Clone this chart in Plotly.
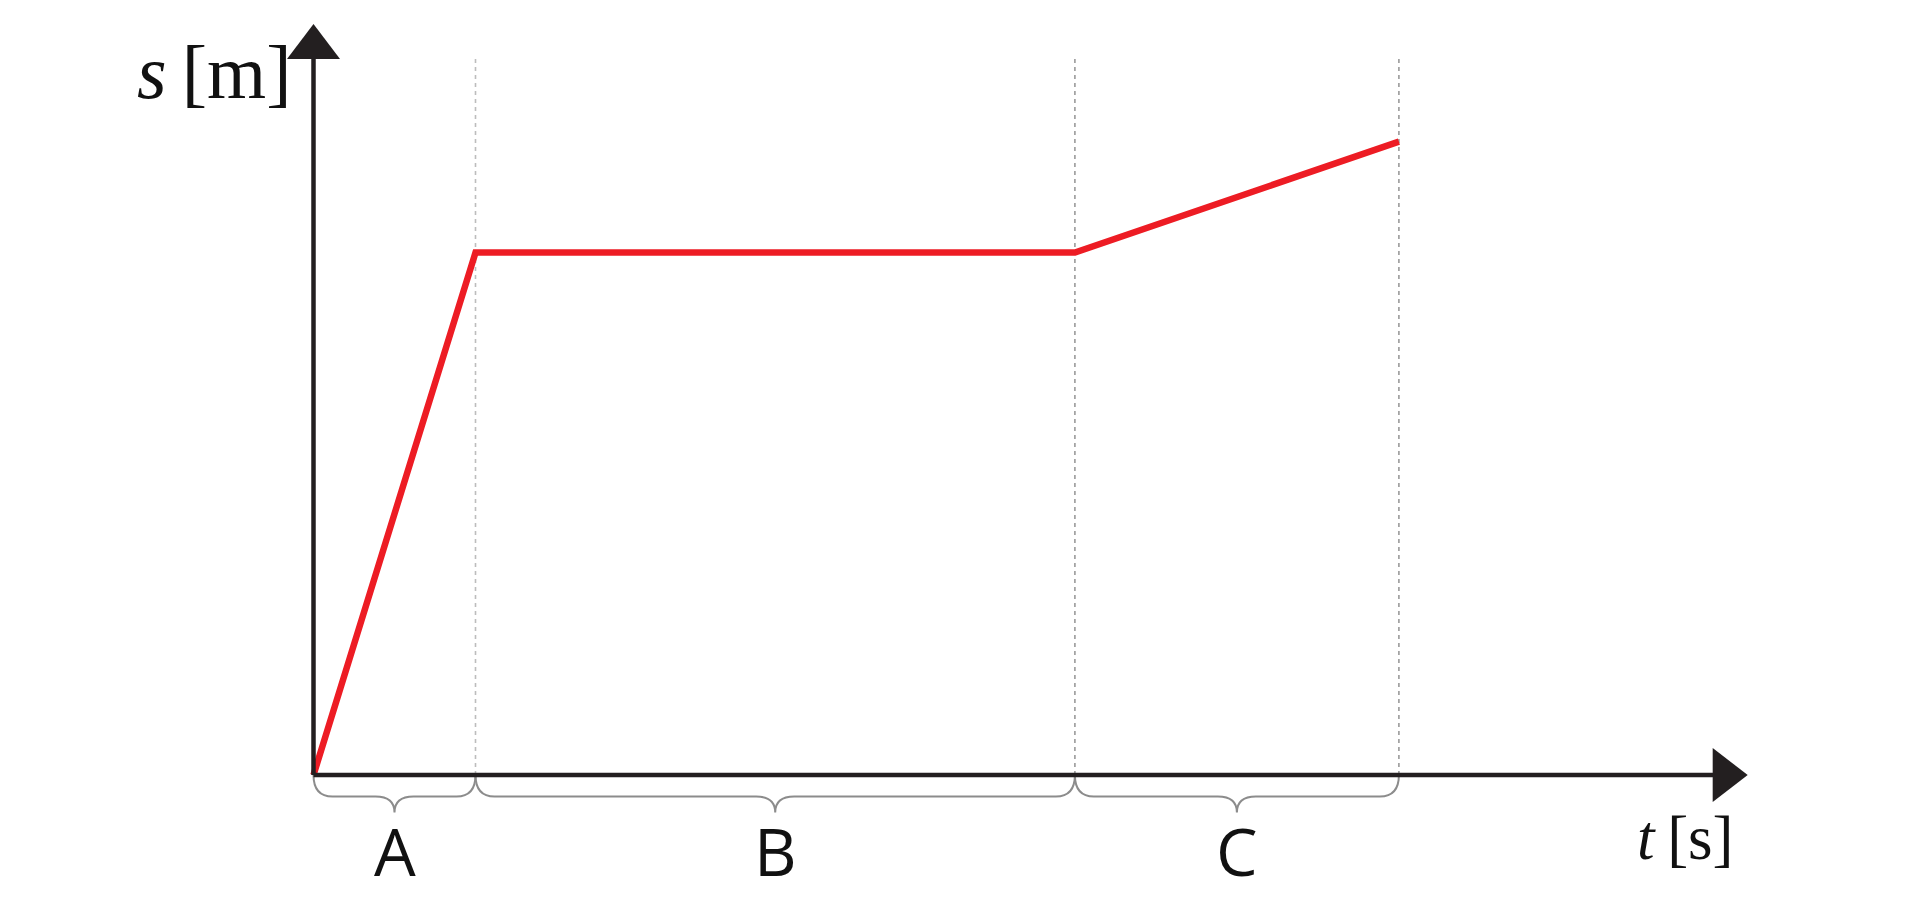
import plotly.graph_objects as go

# ---- data ----
t_values = [0, 2, 9.4, 13.4]          # time [s]
s_values = [0, 8, 8, 9.7]             # distance [m]
phase_labels = ["A", "B", "C"]
x_label = "<i>t</i>\u2009[s]"
y_label = "<i>s</i>\u2009[m]"

# ---- geometry / style ----
PAGE_MARGIN = 8                       # default body margin of the html page
W, H = 1920 - 2 * PAGE_MARGIN, 912 - 2 * PAGE_MARGIN
X0_PX, Y0_PX = 313.5 - PAGE_MARGIN, 775.0 - PAGE_MARGIN   # pixel of origin
PX_PER_T, PX_PER_S = 81.0, 65.3
x_range = [-X0_PX / PX_PER_T, (W - X0_PX) / PX_PER_T]
y_range = [(Y0_PX - H) / PX_PER_S, Y0_PX / PX_PER_S]

def dx(px):  # pixel length -> data units (x)
    return px / PX_PER_T

def dy(px):  # pixel length -> data units (y)
    return px / PX_PER_S

AXIS_COLOR = "#231f20"
RED = "#ed1c24"
BRACE_COLOR = "#8c8c8c"

x_tip = dx(1747.7 - 313.5)
y_tip = dy(775 - 24)
guide_top = dy(775 - 58)

fig = go.Figure()
fig.add_trace(go.Scatter(x=t_values, y=s_values, mode="lines",
                         line=dict(color=RED, width=6.5), hoverinfo="skip",
                         showlegend=False))

shapes = []
# guide lines
for i, tv in enumerate(t_values[1:]):
    shapes.append(dict(type="line", xref="x", yref="y", x0=tv, x1=tv,
                       y0=0, y1=guide_top, layer="below",
                       line=dict(color="#bdbdbd" if i == 0 else "#9a9a9a",
                                 width=1.6, dash="4px,4px")))
# axes
shapes.append(dict(type="line", xref="x", yref="y", x0=0, x1=x_tip - dx(20),
                   y0=0, y1=0, line=dict(color=AXIS_COLOR, width=4.5)))
shapes.append(dict(type="line", xref="x", yref="y", x0=0, x1=0,
                   y0=0, y1=y_tip - dy(20), line=dict(color=AXIS_COLOR, width=4.5)))
# arrowheads
shapes.append(dict(type="path", xref="x", yref="y",
                   path=f"M {x_tip},0 L {x_tip - dx(35)},{dy(27)} L {x_tip - dx(35)},{-dy(27)} Z",
                   fillcolor=AXIS_COLOR, line=dict(width=0)))
shapes.append(dict(type="path", xref="x", yref="y",
                   path=f"M 0,{y_tip} L {-dx(26.5)},{y_tip - dy(35)} L {dx(26.5)},{y_tip - dy(35)} Z",
                   fillcolor=AXIS_COLOR, line=dict(width=0)))

# braces
r = 19
h1 = 21.5
h2 = 16
for a, b in zip(t_values[:-1], t_values[1:]):
    m = (a + b) / 2
    yA = 0
    yH = -dy(h1)
    yT = -dy(h1 + h2)
    p = (f"M {a},{yA} Q {a},{yH} {a + dx(r)},{yH} "
         f"L {m - dx(r)},{yH} Q {m},{yH} {m},{yT} "
         f"Q {m},{yH} {m + dx(r)},{yH} "
         f"L {b - dx(r)},{yH} Q {b},{yH} {b},{yA}")
    shapes.append(dict(type="path", xref="x", yref="y", path=p,
                       line=dict(color=BRACE_COLOR, width=2), layer="below"))

annotations = []
for lab, a, b in zip(phase_labels, t_values[:-1], t_values[1:]):
    annotations.append(dict(x=(a + b) / 2, y=-dy(850 - 775), xref="x", yref="y",
                            text=lab, showarrow=False, xanchor="center", yanchor="middle",
                            font=dict(family="Open Sans", size=66, color="#111111")))
annotations.append(dict(x=dx(214 - 313.5), y=dy(775 - 72), xref="x", yref="y",
                        text=y_label, showarrow=False, xanchor="center", yanchor="middle",
                        font=dict(family="Liberation Serif", size=76, color="#111111")))
annotations.append(dict(x=dx(1685 - 313.5), y=-dy(838 - 775), xref="x", yref="y",
                        text=x_label, showarrow=False, xanchor="center", yanchor="middle",
                        font=dict(family="Liberation Serif", size=63, color="#111111")))

fig.update_layout(
    width=W, height=H,
    margin=dict(l=0, r=0, t=0, b=0),
    paper_bgcolor="white", plot_bgcolor="white",
    xaxis=dict(range=x_range, visible=False, fixedrange=True),
    yaxis=dict(range=y_range, visible=False, fixedrange=True),
    shapes=shapes, annotations=annotations, showlegend=False,
)
fig.write_html("out.html", config={"displayModeBar": False})
